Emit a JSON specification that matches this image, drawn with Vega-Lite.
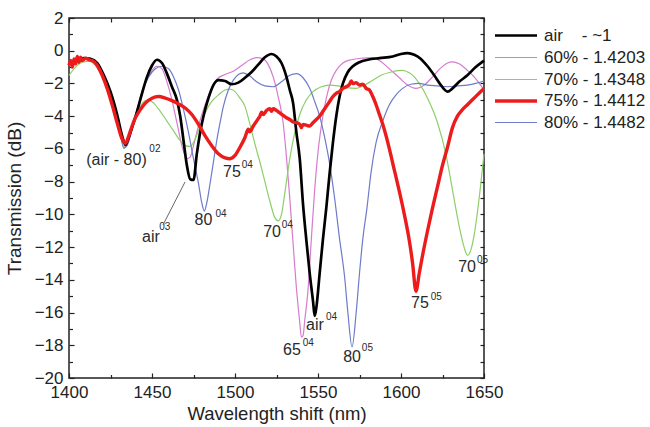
{
  "$schema": "https://vega.github.io/schema/vega-lite/v6.json",
  "width": 415,
  "height": 360,
  "autosize": "none",
  "padding": {"left": 69, "top": 18, "right": 166, "bottom": 49},
  "background": "white",
  "config": {
    "view": {"stroke": "#222", "strokeWidth": 1.5},
    "font": "Liberation Sans",
    "axis": {"grid": false, "domain": false, "tickColor": "#222", "tickWidth": 1.2, "labelColor": "#222", "titleColor": "#222", "labelFont": "Liberation Sans", "titleFont": "Liberation Sans", "titleFontWeight": "normal", "labelFlush": false, "labelOverlap": false},
    "text": {"font": "Liberation Sans"}
  },
  "datasets": {
    "curves": [
      {"s":"60","x":1400,"y":-0.9},{"s":"60","x":1405,"y":-0.65},{"s":"60","x":1410,"y":-0.5},{"s":"60","x":1414,"y":-0.6},{"s":"60","x":1418,"y":-0.9},{"s":"60","x":1422,"y":-1.7},{"s":"60","x":1426,"y":-2.9},{"s":"60","x":1430,"y":-4.5},{"s":"60","x":1433,"y":-5.85},{"s":"60","x":1436,"y":-5.4},{"s":"60","x":1439,"y":-4.4},{"s":"60","x":1442,"y":-3.3},{"s":"60","x":1446,"y":-2.0},{"s":"60","x":1450,"y":-1.2},{"s":"60","x":1453,"y":-0.95},{"s":"60","x":1456,"y":-1.1},{"s":"60","x":1459,"y":-1.9},{"s":"60","x":1462,"y":-3.0},{"s":"60","x":1465,"y":-4.4},{"s":"60","x":1468,"y":-5.8},{"s":"60","x":1471,"y":-6.6},{"s":"60","x":1473,"y":-6.5},{"s":"60","x":1475,"y":-5.8},{"s":"60","x":1478,"y":-4.6},{"s":"60","x":1481,"y":-3.6},{"s":"60","x":1485,"y":-2.5},{"s":"60","x":1489,"y":-1.75},{"s":"60","x":1494,"y":-1.45},{"s":"60","x":1499,"y":-1.25},{"s":"60","x":1504,"y":-0.9},{"s":"60","x":1509,"y":-0.55},{"s":"60","x":1513,"y":-0.42},{"s":"60","x":1517,"y":-0.5},{"s":"60","x":1520,"y":-0.85},{"s":"60","x":1523,"y":-1.6},{"s":"60","x":1526,"y":-2.8},{"s":"60","x":1529,"y":-4.4},{"s":"60","x":1531,"y":-6.5},{"s":"60","x":1533,"y":-9.0},{"s":"60","x":1535,"y":-11.8},{"s":"60","x":1537,"y":-14.5},{"s":"60","x":1539,"y":-16.6},{"s":"60","x":1540,"y":-17.5},{"s":"60","x":1541,"y":-17.4},{"s":"60","x":1542,"y":-16.5},{"s":"60","x":1544,"y":-14.6},{"s":"60","x":1546,"y":-11.5},{"s":"60","x":1548,"y":-8.5},{"s":"60","x":1550,"y":-6.2},{"s":"60","x":1552,"y":-4.6},{"s":"60","x":1555,"y":-2.9},{"s":"60","x":1558,"y":-1.8},{"s":"60","x":1561,"y":-1.2},{"s":"60","x":1565,"y":-0.75},{"s":"60","x":1570,"y":-0.55},{"s":"60","x":1577,"y":-0.45},{"s":"60","x":1583,"y":-0.42},{"s":"60","x":1589,"y":-0.75},{"s":"60","x":1594,"y":-1.2},{"s":"60","x":1599,"y":-1.65},{"s":"60","x":1604,"y":-2.1},{"s":"60","x":1609,"y":-2.3},{"s":"60","x":1614,"y":-2.1},{"s":"60","x":1619,"y":-1.6},{"s":"60","x":1624,"y":-1.05},{"s":"60","x":1628,"y":-0.75},{"s":"60","x":1631,"y":-0.68},{"s":"60","x":1635,"y":-0.8},{"s":"60","x":1640,"y":-1.2},{"s":"60","x":1645,"y":-1.7},{"s":"60","x":1650,"y":-2.4},

      {"s":"70","x":1400,"y":-1.5},{"s":"70","x":1404,"y":-1.0},{"s":"70","x":1408,"y":-0.7},{"s":"70","x":1412,"y":-0.65},{"s":"70","x":1416,"y":-0.9},{"s":"70","x":1420,"y":-1.6},{"s":"70","x":1424,"y":-2.6},{"s":"70","x":1428,"y":-3.9},{"s":"70","x":1431,"y":-5.1},{"s":"70","x":1433,"y":-5.95},{"s":"70","x":1435,"y":-5.7},{"s":"70","x":1437,"y":-5.0},{"s":"70","x":1440,"y":-4.1},{"s":"70","x":1443,"y":-3.4},{"s":"70","x":1446,"y":-3.05},{"s":"70","x":1448,"y":-3.0},{"s":"70","x":1451,"y":-3.2},{"s":"70","x":1455,"y":-3.7},{"s":"70","x":1459,"y":-4.3},{"s":"70","x":1463,"y":-4.9},{"s":"70","x":1467,"y":-5.5},{"s":"70","x":1470,"y":-5.8},{"s":"70","x":1473,"y":-5.85},{"s":"70","x":1476,"y":-5.4},{"s":"70","x":1479,"y":-4.6},{"s":"70","x":1482,"y":-3.8},{"s":"70","x":1486,"y":-3.1},{"s":"70","x":1490,"y":-2.7},{"s":"70","x":1494,"y":-2.4},{"s":"70","x":1497,"y":-2.35},{"s":"70","x":1500,"y":-2.5},{"s":"70","x":1503,"y":-2.9},{"s":"70","x":1506,"y":-3.4},{"s":"70","x":1509,"y":-4.5},{"s":"70","x":1512,"y":-5.7},{"s":"70","x":1515,"y":-6.8},{"s":"70","x":1518,"y":-8.0},{"s":"70","x":1521,"y":-9.2},{"s":"70","x":1524,"y":-10.2},{"s":"70","x":1526,"y":-10.4},{"s":"70","x":1528,"y":-10.0},{"s":"70","x":1530,"y":-8.7},{"s":"70","x":1533,"y":-6.6},{"s":"70","x":1536,"y":-5.0},{"s":"70","x":1539,"y":-3.9},{"s":"70","x":1543,"y":-3.0},{"s":"70","x":1547,"y":-2.5},{"s":"70","x":1552,"y":-2.2},{"s":"70","x":1557,"y":-2.1},{"s":"70","x":1562,"y":-2.15},{"s":"70","x":1567,"y":-2.25},{"s":"70","x":1573,"y":-2.3},{"s":"70","x":1578,"y":-2.1},{"s":"70","x":1583,"y":-1.8},{"s":"70","x":1588,"y":-1.5},{"s":"70","x":1594,"y":-1.3},{"s":"70","x":1598,"y":-1.22},{"s":"70","x":1601,"y":-1.2},{"s":"70","x":1605,"y":-1.35},{"s":"70","x":1608,"y":-1.6},{"s":"70","x":1611,"y":-2.0},{"s":"70","x":1616,"y":-2.9},{"s":"70","x":1622,"y":-4.4},{"s":"70","x":1627,"y":-6.3},{"s":"70","x":1631,"y":-8.5},{"s":"70","x":1635,"y":-10.7},{"s":"70","x":1638,"y":-12.0},{"s":"70","x":1640,"y":-12.5},{"s":"70","x":1642,"y":-12.2},{"s":"70","x":1644,"y":-11.3},{"s":"70","x":1646,"y":-9.9},{"s":"70","x":1648,"y":-8.2},{"s":"70","x":1650,"y":-6.3},

      {"s":"80","x":1400,"y":-0.9},{"s":"80","x":1405,"y":-0.7},{"s":"80","x":1410,"y":-0.5},{"s":"80","x":1414,"y":-0.6},{"s":"80","x":1418,"y":-0.9},{"s":"80","x":1422,"y":-1.7},{"s":"80","x":1426,"y":-2.9},{"s":"80","x":1430,"y":-4.5},{"s":"80","x":1433,"y":-5.95},{"s":"80","x":1435,"y":-5.8},{"s":"80","x":1438,"y":-4.8},{"s":"80","x":1441,"y":-3.6},{"s":"80","x":1444,"y":-2.5},{"s":"80","x":1448,"y":-1.6},{"s":"80","x":1452,"y":-1.1},{"s":"80","x":1456,"y":-0.95},{"s":"80","x":1460,"y":-1.1},{"s":"80","x":1463,"y":-1.6},{"s":"80","x":1466,"y":-2.4},{"s":"80","x":1469,"y":-3.6},{"s":"80","x":1472,"y":-5.0},{"s":"80","x":1475,"y":-6.6},{"s":"80","x":1478,"y":-8.1},{"s":"80","x":1480,"y":-9.3},{"s":"80","x":1481.5,"y":-9.8},{"s":"80","x":1483,"y":-9.3},{"s":"80","x":1485,"y":-8.1},{"s":"80","x":1487,"y":-6.8},{"s":"80","x":1489,"y":-5.5},{"s":"80","x":1491,"y":-4.4},{"s":"80","x":1493,"y":-3.4},{"s":"80","x":1496,"y":-2.4},{"s":"80","x":1499,"y":-1.8},{"s":"80","x":1502,"y":-1.45},{"s":"80","x":1505,"y":-1.35},{"s":"80","x":1509,"y":-1.55},{"s":"80","x":1513,"y":-1.9},{"s":"80","x":1518,"y":-2.15},{"s":"80","x":1523,"y":-2.2},{"s":"80","x":1528,"y":-1.9},{"s":"80","x":1533,"y":-1.5},{"s":"80","x":1537,"y":-1.4},{"s":"80","x":1541,"y":-1.65},{"s":"80","x":1545,"y":-2.3},{"s":"80","x":1548,"y":-3.1},{"s":"80","x":1551,"y":-4.0},{"s":"80","x":1554,"y":-5.3},{"s":"80","x":1557,"y":-6.9},{"s":"80","x":1560,"y":-9.0},{"s":"80","x":1563,"y":-11.5},{"s":"80","x":1566,"y":-13.8},{"s":"80","x":1568,"y":-16.0},{"s":"80","x":1570.5,"y":-18.1},{"s":"80","x":1573,"y":-16.0},{"s":"80","x":1575,"y":-13.6},{"s":"80","x":1577,"y":-11.5},{"s":"80","x":1579.5,"y":-9.6},{"s":"80","x":1582,"y":-7.4},{"s":"80","x":1585,"y":-5.6},{"s":"80","x":1589,"y":-4.3},{"s":"80","x":1593,"y":-3.3},{"s":"80","x":1597,"y":-2.7},{"s":"80","x":1601,"y":-2.3},{"s":"80","x":1606,"y":-2.05},{"s":"80","x":1611,"y":-2.0},{"s":"80","x":1616,"y":-2.1},{"s":"80","x":1622,"y":-2.15},{"s":"80","x":1628,"y":-2.2},{"s":"80","x":1634,"y":-2.15},{"s":"80","x":1640,"y":-2.1},{"s":"80","x":1645,"y":-2.0},{"s":"80","x":1650,"y":-1.85},

      {"s":"air","x":1400,"y":-0.8},{"s":"air","x":1404,"y":-0.6},{"s":"air","x":1409,"y":-0.45},{"s":"air","x":1413,"y":-0.5},{"s":"air","x":1417,"y":-0.75},{"s":"air","x":1421,"y":-1.5},{"s":"air","x":1425,"y":-2.5},{"s":"air","x":1429,"y":-3.9},{"s":"air","x":1432,"y":-5.2},{"s":"air","x":1434,"y":-5.75},{"s":"air","x":1436,"y":-5.3},{"s":"air","x":1438,"y":-4.7},{"s":"air","x":1441,"y":-3.7},{"s":"air","x":1444,"y":-2.6},{"s":"air","x":1447,"y":-1.6},{"s":"air","x":1450,"y":-0.9},{"s":"air","x":1453,"y":-0.55},{"s":"air","x":1456,"y":-0.75},{"s":"air","x":1459,"y":-1.4},{"s":"air","x":1462,"y":-2.2},{"s":"air","x":1465,"y":-3.0},{"s":"air","x":1467,"y":-4.0},{"s":"air","x":1469,"y":-5.5},{"s":"air","x":1471,"y":-7.0},{"s":"air","x":1473,"y":-7.85},{"s":"air","x":1475,"y":-7.9},{"s":"air","x":1477,"y":-6.3},{"s":"air","x":1479,"y":-5.0},{"s":"air","x":1481,"y":-4.0},{"s":"air","x":1484,"y":-2.9},{"s":"air","x":1487,"y":-2.1},{"s":"air","x":1490,"y":-1.8},{"s":"air","x":1494,"y":-1.85},{"s":"air","x":1498,"y":-2.05},{"s":"air","x":1502,"y":-1.95},{"s":"air","x":1506,"y":-1.65},{"s":"air","x":1510,"y":-1.3},{"s":"air","x":1514,"y":-0.85},{"s":"air","x":1518,"y":-0.4},{"s":"air","x":1522,"y":-0.2},{"s":"air","x":1525,"y":-0.35},{"s":"air","x":1528,"y":-0.75},{"s":"air","x":1531,"y":-1.6},{"s":"air","x":1533,"y":-2.4},{"s":"air","x":1535,"y":-3.2},{"s":"air","x":1537,"y":-5.0},{"s":"air","x":1539,"y":-6.6},{"s":"air","x":1541,"y":-9.4},{"s":"air","x":1543,"y":-11.6},{"s":"air","x":1545,"y":-13.6},{"s":"air","x":1547,"y":-15.3},{"s":"air","x":1548,"y":-16.2},{"s":"air","x":1549,"y":-15.7},{"s":"air","x":1551,"y":-13.6},{"s":"air","x":1553,"y":-11.5},{"s":"air","x":1555,"y":-9.6},{"s":"air","x":1557,"y":-7.5},{"s":"air","x":1559,"y":-5.6},{"s":"air","x":1561,"y":-4.0},{"s":"air","x":1563,"y":-2.8},{"s":"air","x":1565,"y":-2.0},{"s":"air","x":1568,"y":-1.3},{"s":"air","x":1571,"y":-0.95},{"s":"air","x":1575,"y":-0.7},{"s":"air","x":1580,"y":-0.55},{"s":"air","x":1587,"y":-0.45},{"s":"air","x":1595,"y":-0.35},{"s":"air","x":1600,"y":-0.2},{"s":"air","x":1604,"y":-0.15},{"s":"air","x":1608,"y":-0.25},{"s":"air","x":1612,"y":-0.5},{"s":"air","x":1616,"y":-0.95},{"s":"air","x":1620,"y":-1.5},{"s":"air","x":1624,"y":-2.1},{"s":"air","x":1628,"y":-2.5},{"s":"air","x":1631,"y":-2.3},{"s":"air","x":1635,"y":-1.9},{"s":"air","x":1640,"y":-1.5},{"s":"air","x":1645,"y":-1.0},{"s":"air","x":1650,"y":-0.6},

      {"s":"75","x":1400,"y":-0.9},{"s":"75","x":1401,"y":-0.6},{"s":"75","x":1402,"y":-1.0},{"s":"75","x":1403,"y":-0.5},{"s":"75","x":1404,"y":-0.8},{"s":"75","x":1405,"y":-0.35},{"s":"75","x":1406,"y":-0.7},{"s":"75","x":1407,"y":-0.4},{"s":"75","x":1408,"y":-0.6},{"s":"75","x":1410,"y":-0.45},{"s":"75","x":1412,"y":-0.55},{"s":"75","x":1414,"y":-0.6},{"s":"75","x":1417,"y":-0.9},{"s":"75","x":1420,"y":-1.5},{"s":"75","x":1423,"y":-2.3},{"s":"75","x":1426,"y":-3.3},{"s":"75","x":1429,"y":-4.4},{"s":"75","x":1432,"y":-5.4},{"s":"75","x":1434,"y":-5.65},{"s":"75","x":1436,"y":-5.2},{"s":"75","x":1438,"y":-4.6},{"s":"75","x":1440,"y":-4.1},{"s":"75","x":1443,"y":-3.6},{"s":"75","x":1446,"y":-3.2},{"s":"75","x":1450,"y":-2.9},{"s":"75","x":1454,"y":-2.8},{"s":"75","x":1458,"y":-2.9},{"s":"75","x":1462,"y":-3.05},{"s":"75","x":1466,"y":-3.25},{"s":"75","x":1470,"y":-3.5},{"s":"75","x":1474,"y":-3.9},{"s":"75","x":1478,"y":-4.5},{"s":"75","x":1482,"y":-5.2},{"s":"75","x":1486,"y":-5.8},{"s":"75","x":1490,"y":-6.3},{"s":"75","x":1494,"y":-6.55},{"s":"75","x":1497,"y":-6.6},{"s":"75","x":1500,"y":-6.4},{"s":"75","x":1503,"y":-5.9},{"s":"75","x":1506,"y":-5.3},{"s":"75","x":1508,"y":-4.8},{"s":"75","x":1509,"y":-4.95},{"s":"75","x":1511,"y":-4.6},{"s":"75","x":1513,"y":-4.3},{"s":"75","x":1514,"y":-4.15},{"s":"75","x":1515,"y":-4.0},{"s":"75","x":1516,"y":-3.75},{"s":"75","x":1517,"y":-3.9},{"s":"75","x":1519,"y":-3.65},{"s":"75","x":1521,"y":-3.55},{"s":"75","x":1522,"y":-3.7},{"s":"75","x":1523,"y":-3.55},{"s":"75","x":1525,"y":-3.65},{"s":"75","x":1527,"y":-3.8},{"s":"75","x":1529,"y":-3.95},{"s":"75","x":1531,"y":-4.1},{"s":"75","x":1533,"y":-4.2},{"s":"75","x":1535,"y":-4.35},{"s":"75","x":1537,"y":-4.4},{"s":"75","x":1539,"y":-4.5},{"s":"75","x":1540,"y":-4.7},{"s":"75","x":1541,"y":-4.5},{"s":"75","x":1543,"y":-4.55},{"s":"75","x":1545,"y":-4.6},{"s":"75","x":1547,"y":-4.4},{"s":"75","x":1549,"y":-4.2},{"s":"75","x":1551,"y":-4.0},{"s":"75","x":1553,"y":-3.7},{"s":"75","x":1555,"y":-3.4},{"s":"75","x":1557,"y":-3.1},{"s":"75","x":1559,"y":-2.8},{"s":"75","x":1561,"y":-2.6},{"s":"75","x":1563,"y":-2.5},{"s":"75","x":1565,"y":-2.3},{"s":"75","x":1567,"y":-2.2},{"s":"75","x":1569,"y":-2.05},{"s":"75","x":1570,"y":-1.85},{"s":"75","x":1571,"y":-2.0},{"s":"75","x":1573,"y":-1.95},{"s":"75","x":1575,"y":-2.1},{"s":"75","x":1577,"y":-2.05},{"s":"75","x":1579,"y":-2.3},{"s":"75","x":1581,"y":-2.4},{"s":"75","x":1583,"y":-2.8},{"s":"75","x":1585,"y":-3.3},{"s":"75","x":1587,"y":-3.9},{"s":"75","x":1589,"y":-4.5},{"s":"75","x":1591,"y":-5.2},{"s":"75","x":1593,"y":-6.0},{"s":"75","x":1596,"y":-7.3},{"s":"75","x":1599,"y":-8.6},{"s":"75","x":1602,"y":-10.0},{"s":"75","x":1605,"y":-11.6},{"s":"75","x":1607,"y":-13.0},{"s":"75","x":1609,"y":-14.7},{"s":"75","x":1611,"y":-13.6},{"s":"75","x":1613,"y":-12.5},{"s":"75","x":1616,"y":-11.0},{"s":"75","x":1619,"y":-9.6},{"s":"75","x":1622,"y":-8.3},{"s":"75","x":1625,"y":-7.0},{"s":"75","x":1628,"y":-5.9},{"s":"75","x":1631,"y":-4.7},{"s":"75","x":1634,"y":-4.0},{"s":"75","x":1637,"y":-3.6},{"s":"75","x":1640,"y":-3.3},{"s":"75","x":1643,"y":-3.0},{"s":"75","x":1646,"y":-2.7},{"s":"75","x":1650,"y":-2.3}
    ],
    "mainLabels": [
      {"t":"(air - 80)","x":1428.6,"y":-6.7},
      {"t":"air","x":1449.4,"y":-11.4},
      {"t":"80","x":1481,"y":-10.35},
      {"t":"75","x":1498.2,"y":-7.41},
      {"t":"70","x":1522.3,"y":-11.08},
      {"t":"air","x":1548.2,"y":-16.77},
      {"t":"65","x":1534.3,"y":-18.3},
      {"t":"80","x":1570.5,"y":-18.72},
      {"t":"75","x":1611.4,"y":-15.42},
      {"t":"70","x":1639.8,"y":-13.22}
    ],
    "supLabels": [
      {"t":"02","x":1448.4,"y":-6.0},
      {"t":"03","x":1454.3,"y":-10.8},
      {"t":"04","x":1488.2,"y":-9.98},
      {"t":"04","x":1504.0,"y":-6.99},
      {"t":"04","x":1528.2,"y":-10.65},
      {"t":"04","x":1554.8,"y":-16.28},
      {"t":"04","x":1540.8,"y":-17.87},
      {"t":"05","x":1576.4,"y":-18.17},
      {"t":"05","x":1617.9,"y":-15.06},
      {"t":"05","x":1645.8,"y":-12.79}
    ],
    "leader": [
      {"x":1456.6,"y":-10.65,"x2":1469.9,"y2":-8.02}
    ]
  },
  "layer": [
    {
      "data": {"name": "curves"},
      "mark": {"type": "line", "interpolate": "monotone", "strokeJoin": "round"},
      "encoding": {
        "x": {"field": "x", "type": "quantitative", "scale": {"domain": [1400, 1650], "nice": false, "zero": false},
          "axis": {"orient": "bottom", "values": [1400,1450,1500,1550,1600,1650], "format": "d", "ticks": false, "labelPadding": 6, "labelFontSize": 17, "title": "Wavelength shift (nm)", "titleFontSize": 18.5, "titlePadding": 4}},
        "y": {"field": "y", "type": "quantitative", "scale": {"domain": [-20, 2], "nice": false, "zero": false},
          "axis": {"orient": "left", "values": [-20,-18,-16,-14,-12,-10,-8,-6,-4,-2,0,2], "format": "d", "ticks": false, "labelPadding": 6, "labelFontSize": 17, "title": "Transmission (dB)", "titleFontSize": 19, "titlePadding": 10}},
        "color": {"field": "s", "type": "nominal",
          "scale": {"domain": ["air","60","70","75","80"], "range": ["#000000","#d77bcf","#8ccf6a","#ec1c1c","#6d7bc9"]},
          "legend": {"orient": "none", "legendX": 438, "legendY": 9, "title": null, "padding": 0,
            "symbolType": "M-3,0H3", "symbolSize": 196, "labelOffset": 19, "labelFontSize": 17, "labelColor": "#222", "labelFont": "Liberation Sans", "rowPadding": 4, "labelLimit": 200,
            "labelExpr": "datum.label == 'air' ? 'air\u00a0\u00a0\u00a0\u00a0- ~1' : datum.label == '60' ? '60% - 1.4203' : datum.label == '70' ? '70% - 1.4348' : datum.label == '75' ? '75% - 1.4412' : '80% - 1.4482'"}},
        "strokeWidth": {"field": "s", "type": "nominal",
          "scale": {"type": "ordinal", "domain": ["air","60","70","75","80"], "range": [2.7, 1.2, 1.2, 3.4, 1.2]}}
      }
    },
    {
      "data": {"name": "mainLabels"},
      "mark": {"type": "text", "fontSize": 16, "color": "#2a2a2a", "baseline": "middle", "align": "center"},
      "encoding": {
        "x": {"field": "x", "type": "quantitative", "scale": {"domain": [1400, 1650], "nice": false, "zero": false},
          "axis": {"orient": "bottom", "values": [1400,1450,1500,1550,1600,1650], "labels": false, "tickSize": 5, "offset": -5, "title": null}},
        "y": {"field": "y", "type": "quantitative", "scale": {"domain": [-20, 2], "nice": false, "zero": false},
          "axis": {"orient": "left", "values": [-20,-18,-16,-14,-12,-10,-8,-6,-4,-2,0,2], "labels": false, "tickSize": 5, "offset": -5, "title": null}},
        "text": {"field": "t"}
      }
    },
    {
      "data": {"name": "supLabels"},
      "mark": {"type": "text", "fontSize": 10, "color": "#2a2a2a", "baseline": "middle", "align": "left"},
      "encoding": {
        "x": {"field": "x", "type": "quantitative", "scale": {"domain": [1400, 1650], "nice": false, "zero": false},
          "axis": {"orient": "bottom", "values": [1425,1475,1525,1575,1625], "labels": false, "tickSize": 3.5, "offset": -3.5, "title": null}},
        "y": {"field": "y", "type": "quantitative", "scale": {"domain": [-20, 2], "nice": false, "zero": false},
          "axis": {"orient": "left", "values": [-19,-17,-15,-13,-11,-9,-7,-5,-3,-1,1], "labels": false, "tickSize": 3.5, "offset": -3.5, "title": null}},
        "text": {"field": "t"}
      }
    },
    {
      "data": {"name": "leader"},
      "mark": {"type": "rule", "color": "#666", "strokeWidth": 1},
      "encoding": {
        "x": {"field": "x", "type": "quantitative", "scale": {"domain": [1400, 1650], "nice": false, "zero": false},
          "axis": {"orient": "top", "values": [1400,1425,1450,1475,1500,1525,1550,1575,1600,1625,1650], "labels": false, "tickSize": 4, "offset": -4, "title": null}},
        "y": {"field": "y", "type": "quantitative", "scale": {"domain": [-20, 2], "nice": false, "zero": false},
          "axis": {"orient": "right", "values": [-20,-19,-18,-17,-16,-15,-14,-13,-12,-11,-10,-9,-8,-7,-6,-5,-4,-3,-2,-1,0,1,2], "labels": false, "tickSize": 4, "offset": -4, "title": null}},
        "x2": {"field": "x2"},
        "y2": {"field": "y2"}
      }
    }
  ],
  "resolve": {"scale": {"x": "independent", "y": "independent"}, "axis": {"x": "independent", "y": "independent"}}
}
